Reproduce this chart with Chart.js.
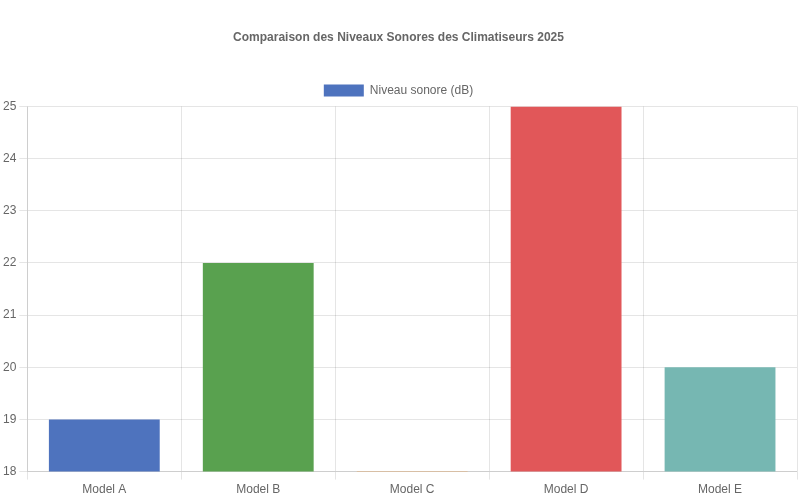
<!DOCTYPE html>
<html>
<head>
<meta charset="utf-8">
<script src="https://cdn.jsdelivr.net/npm/chart.js@4"></script>
<style>
  body { margin: 0; background: #fff; }
  #wrap { width: 800px; height: 500px; }
</style>
</head>
<body>
<div id="wrap"><canvas id="chart"></canvas></div>
<script>
var categories = ['Model A', 'Model B', 'Model C', 'Model D', 'Model E'];
var noiseLevels = [19, 22, 18, 25, 20];
var barColors = ['#4e73be', '#59a14f', '#f28e2b', '#e15759', '#76b7b2'];

Chart.defaults.font.family = '"Liberation Sans", Arial, sans-serif';
Chart.defaults.color = '#666';

new Chart(document.getElementById('chart'), {
   type: 'bar',
   data: {
      labels: categories,
      datasets: [{
         label: 'Niveau sonore (dB)',
         data: noiseLevels,
         backgroundColor: barColors,
         categoryPercentage: 0.8,
         barPercentage: 0.9
      }]
   },
   options: {
      responsive: true,
      maintainAspectRatio: false,
      animation: false,
      layout: { padding: { top: 20, right: 3, left: 0, bottom: 0 } },
      plugins: {
         title: {
            display: true,
            text: 'Comparaison des Niveaux Sonores des Climatiseurs 2025',
            font: { size: 12, weight: 'bold' },
            padding: { top: 10, bottom: 30 }
         },
         legend: {
            labels: { boxWidth: 40, font: { size: 12 } }
         }
      },
      scales: {
         y: {
            min: 18,
            max: 25,
            ticks: { stepSize: 1, font: { size: 12 } }
         },
         x: {
            ticks: { font: { size: 12 } }
         }
      }
   }
});
</script>
</body>
</html>
